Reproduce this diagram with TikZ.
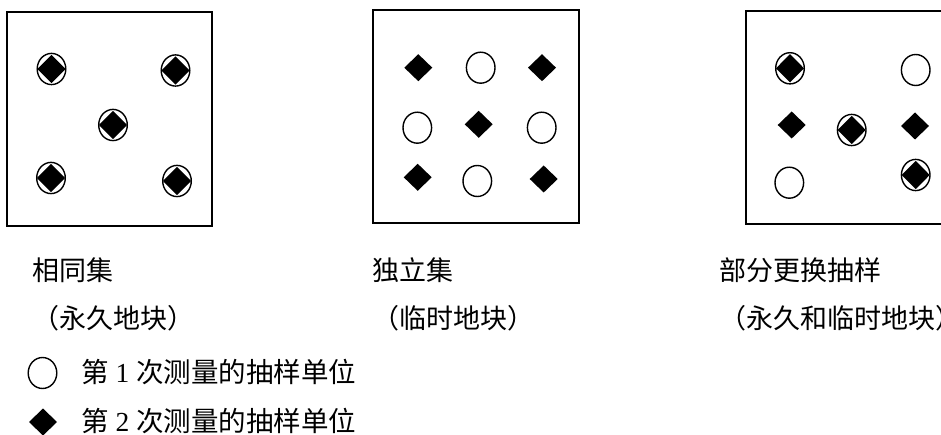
\documentclass[tikz,border=0pt]{standalone}
\usepackage{fontspec}
\setmainfont{Liberation Serif}
\newfontfamily\cjk{Noto Sans CJK SC}
\begin{document}
\begin{tikzpicture}[x=1pt,y=-1pt,
  frame/.style={line width=1.8pt},
  lbl/.style={anchor=base west, inner sep=0pt, font=\cjk\fontsize{27pt}{27pt}\selectfont},
  leg/.style={anchor=base west, inner sep=0pt, text depth=0pt, font=\cjk\fontsize{27.5pt}{27.5pt}\selectfont},
  ring/.pic={\draw[line width=1.4pt] (0,0) ellipse [x radius=14.3pt, y radius=15.5pt];},
  diam/.pic={\fill (-14,0)--(0,-13.5)--(14,0)--(0,13.5)--cycle;},
  ringdiam/.pic={\draw[line width=1.4pt] (0,0) ellipse [x radius=14.3pt, y radius=15.6pt];
                 \fill (-14,0)--(0,-14.2)--(14,0)--(0,14.2)--cycle;},
]
\useasboundingbox (0,0) rectangle (941,435);
\fill[white] (0,0) rectangle (941,435);
\clip (0,0) rectangle (941,435);

% frames
\draw[frame] (7,12) rectangle (212,226);
\draw[frame] (373,10) rectangle (579,223);
\draw[frame] (746,11) rectangle (960,224);

% box 1: identical set
\pic at (51.5,69) {ringdiam};
\pic at (175.5,70.5) {ringdiam};
\pic at (113,125) {ringdiam};
\pic at (51,178) {ringdiam};
\pic at (177,181) {ringdiam};

% box 2: independent set
\pic at (418.3,67.7) {diam};
\pic at (480.7,67.7) {ring};
\pic at (542,67.7) {diam};
\pic at (417.3,127.7) {ring};
\pic at (478.7,124.3) {diam};
\pic at (541.7,127.7) {ring};
\pic at (417.7,177.3) {diam};
\pic at (477.3,181) {ring};
\pic at (543.7,179) {diam};

% box 3: partial replacement
\pic at (790,68.3) {ringdiam};
\pic at (915.7,70) {ring};
\pic at (791.7,125) {diam};
\pic at (851.7,130) {ringdiam};
\pic at (915,126) {diam};
\pic at (915.7,175) {ringdiam};
\pic at (789.3,182.7) {ring};

% captions
\node[lbl] (t1) at (32,280.3) {相同集};
\node[lbl] (p1) at (32,328.3) {（永久地块）};
\node[lbl] (t2) at (372,280.3) {独立集};
\node[lbl] (p2) at (372,328.3) {（临时地块）};
\node[lbl] (t3) at (719,280.3) {部分更换抽样};
\node[lbl] (p3) at (719,328.3) {（永久和临时地块）};

% legend
\pic at (42.5,373) {ring};
\pic at (43,422) {diam};
\node[leg] (l1) at (81,382) {第\hspace{0.25em}{\rmfamily 1}\hspace{0.25em}次测量的抽样单位};
\node[leg] (l2) at (81,431.3) {第\hspace{0.25em}{\rmfamily 2}\hspace{0.25em}次测量的抽样单位};
\end{tikzpicture}
\end{document}
